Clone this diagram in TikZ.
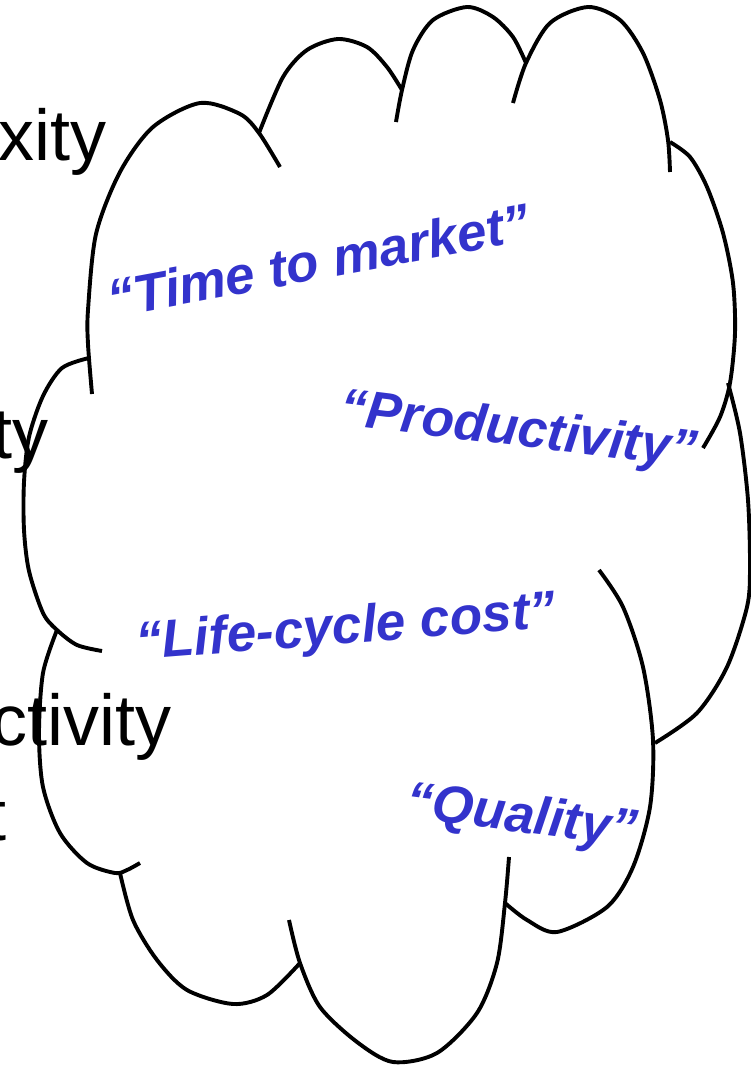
\documentclass[tikz,border=0pt]{standalone}
\usepackage{fontspec}
\setmainfont{Liberation Sans}
\usepackage{xcolor}
\definecolor{sloganblue}{RGB}{51,51,204}

\begin{document}
\begin{tikzpicture}[x=1pt,y=-1pt,
  lobe/.style={black, line width=3.9pt},
  slogan/.style={sloganblue, inner sep=0pt, anchor=base west, font=\fontsize{53}{60}\selectfont\bfseries\itshape},
  behind/.style={black, inner sep=0pt, anchor=base east, font=\fontsize{72}{86}\selectfont}]

\useasboundingbox (0,0) rectangle (751,1069);
\clip (0,0) rectangle (751,1069);

 \begin{scope}[xshift=0cm]
{
% slide text behind the cloud
\node[behind] (complexity) at (107,160) {xity};
\node[behind] (quality) at (49,458) {ty};
\node[behind] (productivity) at (172,745) {ctivity};
\node[behind] (cost) at (7,840) {t};

% the cloud, lobe by lobe
\draw[lobe] plot[smooth] coordinates {(89,358) (62,368) (43,396) (29,437) (24,482) (24,530) (29,571) (43,613) (57,630) (77,645) (102,651)};
\draw[lobe] plot[smooth] coordinates {(92,394) (88,344) (88,310) (96,234) (120,172) (153,127) (200,103) (240,114) (259,133) (280,167)};
\draw[lobe] plot[smooth] coordinates {(259,133) (283,77) (307,50) (338,39) (367,47) (387,67) (402,90)};
\draw[lobe] plot[smooth] coordinates {(396,122) (402,90) (413,50) (433,20) (467,7) (493,17) (513,37) (526,63)};
\draw[lobe] plot[smooth] coordinates {(513,103) (526,63) (550,23) (588,7) (620,20) (643,53) (660,100) (668,140) (670,172)};
\draw[lobe] plot[smooth] coordinates {(670,142) (690,157) (707,187) (723,233) (733,283) (735,333) (730,383) (720,417) (703,448)};
\draw[lobe] plot[smooth] coordinates {(728,383) (740,433) (748,500) (750,567) (747,607) (727,667) (697,713) (655,743)};
\draw[lobe] plot[smooth] coordinates {(599,570) (623,607) (643,667) (653,740) (650,807) (633,867) (607,907) (557,932) (527,920) (505,903)};
\draw[lobe] plot[smooth] coordinates {(509,857) (505,903) (497,963) (477,1013) (437,1053) (393,1062) (357,1042) (320,1007) (300,963) (289,920)};
\draw[lobe] plot[smooth] coordinates {(300,963) (267,995) (233,1004) (187,990) (157,960) (133,920) (120,873)};
\draw[lobe] plot[smooth] coordinates {(140,863) (127,870) (115,873) (87,863) (60,833) (43,787) (39,733) (43,673) (57,630)};

% the four slogans
\node[slogan, rotate=10.5] (market) at (111,318) {“Time to market”};
\node[slogan, rotate=-7] (prod) at (338,424) {“Productivity”};
\node[slogan, rotate=4.5] (lifecycle) at (137,660) {“Life-cycle cost”};
\node[slogan, rotate=-7.5] (qual) at (404,817) {“Quality”};
}
\end{scope}

\end{tikzpicture}
\end{document}
